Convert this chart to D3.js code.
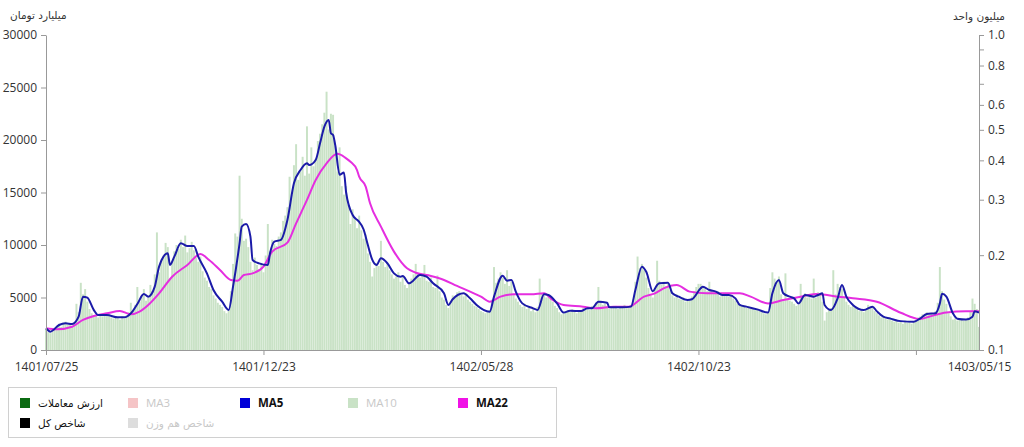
<!DOCTYPE html>
<html><head><meta charset="utf-8">
<script src="https://cdn.jsdelivr.net/npm/d3@7/dist/d3.min.js"></script>
<style>
html,body{margin:0;padding:0;background:#fff;}
svg{display:block;}
.ax text{font-family:"Open Sans",sans-serif;font-size:12px;fill:#333;}
.ax path,.ax line{stroke:#999;}
</style></head>
<body>
<svg id="c" width="1024" height="447"></svg>
<script>
// ---- data ----
const tradeValue = [
2000,1700,1600,1800,2100,2300,2500,2200,2600,2700,2400,2500,2300,2600,4400,3600,6400,5300,5800,4600,3900,3500,3200,3300,3100,
3400,3200,3500,3300,3400,3100,3000,3200,3100,2900,3200,3000,3300,3600,4500,3800,4300,6000,4600,5200,5800,4700,5000,6200,5600,7200,
11200,7400,8600,9000,10200,9800,6800,8500,9400,10000,9600,10500,9800,10900,9300,9700,10300,9500,8800,8400,8900,7500,6900,6600,6000,
5800,5200,4900,4500,4300,4100,3700,3500,3900,5600,8200,11100,10800,16600,12500,10400,10600,
9800,8400,7600,8800,8100,7700,8300,7400,9000,12000,9400,10500,10100,9900,10800,11200,12300,12800,
13600,16500,14800,17600,19600,16200,17000,18400,16600,21300,16800,19300,17500,18200,19900,20600,21500,22600,24600,21000,
22500,22400,19400,17000,19300,15600,14800,15600,13800,12000,13400,12600,11600,12800,11400,10600,11000,9200,8400,7000,
7800,8300,8000,10400,8400,7900,8300,7600,7200,6800,7000,7400,6500,7100,6200,5900,6400,6800,7200,8200,
7300,6900,7000,8100,6600,6500,6900,6000,5900,7100,5600,5000,4800,4300,4000,4600,5200,5000,5500,5600,5300,5100,5400,4800,4600,4400,4200,4100,3900,3700,
3600,3500,3700,3800,4800,7900,6400,6800,7400,6900,6300,7600,6100,6500,5300,4900,4600,4300,4100,4400,3900,4200,3700,3900,3600,4100,6800,5400,5200,5000,
5300,4900,4600,4200,4000,3600,3400,3500,3700,3800,3600,3900,3700,3500,3800,3700,4000,3900,4100,3800,4200,4000,4500,6000,4700,4300,4400,4200,3900,4100,4000,4200,3900,4100,4000,4300,4100,4000,4300,4800,
6500,8900,7800,8200,7600,6900,5900,5200,5000,5800,8500,6600,6200,6500,6100,6300,5700,5200,5000,5300,4900,4800,5000,4600,4700,4800,5100,5600,6000,6300,
6300,5900,5800,5600,6500,5700,5500,5400,5600,5100,5300,5200,5400,5100,5200,4900,4700,4400,4300,4200,4100,4000,4200,3900,4000,3800,3900,3700,3600,3500,
3400,3600,5900,7400,6800,6500,7000,5300,4800,7300,4900,4700,4600,4400,4200,4300,6300,5100,5400,5000,5200,4900,6800,5000,5500,5300,4600,2800,3600,3900,4000,7600,5300,6300,6000,5800,5100,4600,4300,4100,
4200,4000,3900,3700,3800,3600,3900,4300,4100,4000,3700,3500,3300,3100,3200,3000,2900,3100,2800,2700,2900,2600,2700,2500,2800,2600,2700,2500,2700,2900,
3100,3200,3400,3300,3600,3400,3500,3300,3700,4500,7900,5600,4800,4400,3500,3200,2900,3000,2800,2900,3000,2800,2900,3100,3700,4900,4400,3900,2200
];
const ma5Day = [0,2,6,9,12,15,17,19,22,24,28,33,36,39,42,45,47,50,52,56,57,59,62,65,68,70,74,77,81,84,86,89,90,92,94,95,98,102,103,105,108,111,114,117,120,121,124,126,128,130,131,132,133,135,137,138,141,143,144,146,148,150,152,154,157,160,163,164,167,172,175,178,183,185,187,192,195,198,204,206,210,212,214,216,219,224,226,229,231,235,238,241,246,249,251,254,258,259,265,269,271,274,276,279,281,282,286,288,291,295,297,301,302,305,308,311,314,317,319,322,327,332,334,337,339,342,344,346,349,353,355,357,358,361,364,366,368,371,376,380,382,385,388,393,399,402,405,409,411,412,414,417,419,423,426,427,429];
const ma5Val = [2070,1750,2380,2540,2470,3170,5080,4980,3800,3330,3330,3110,3110,3490,4380,5330,5080,6030,7940,9210,8100,8890,10160,9900,9900,8890,7300,5710,4600,3810,6030,10160,11750,12000,10790,8570,8250,8100,9210,10320,10480,12380,15870,17140,17780,17620,18100,19680,21270,21900,20640,20480,19500,16700,16900,15000,12860,12400,12200,11500,10000,8600,8100,8730,8250,7300,6980,7050,6350,7140,6980,6350,5400,4290,4830,5400,4920,4290,3650,5080,7080,6600,6670,5560,4440,3970,3810,5300,5240,4440,3560,3740,3710,3970,3970,4600,4500,4060,4060,4130,5710,7940,7460,5600,6190,6350,6410,5400,5080,4760,4830,5870,6030,5710,5560,5240,5240,4920,4290,4130,3870,3560,5400,6670,5400,5080,4920,4440,5240,5080,5240,5400,4290,3810,4920,6190,5080,4290,3810,4130,3700,3170,3010,2750,2700,3010,3430,3500,4440,5350,5080,3490,2980,2900,3170,3700,3560];
const ma22Day = [0,5,12,17,22,28,34,39,43,47,52,58,65,71,75,80,85,88,91,95,100,104,111,115,120,124,129,134,138,140,143,144,147,149,154,160,166,170,177,183,189,195,200,204,209,215,223,229,233,238,247,253,261,268,275,280,284,290,296,304,313,319,324,332,339,347,354,364,371,382,393,402,406,414,423,429];
const ma22Val = [2070,1970,2220,2860,3240,3490,3710,3400,3650,4290,5400,6980,8100,9140,8570,7620,6670,6600,7140,7300,7940,9370,10220,12060,14290,16190,17780,18680,18250,17930,17140,16510,15560,13970,11750,9370,7780,7360,7050,6670,6100,5560,5080,4600,5080,5300,5300,5400,4760,4290,4130,3970,4130,4130,5080,5400,5870,6190,5560,5400,5400,5400,5080,4440,4760,5080,5330,5080,4920,4600,3550,2950,3170,3570,3680,3680];
const dateTickDay = [0,100,200,300,400,429];
const dateTickLabel = ["1401/07/25","1401/12/23","1402/05/28","1402/10/23","","1403/05/15"];
const leftTicks = [0,5000,10000,15000,20000,25000,30000];
const rightTicks = [0.1,0.2,0.3,0.4,0.5,0.6,0.7,0.8,0.9,1.0];
const rightLabelled = [0.1,0.2,0.3,0.4,0.5,0.6,0.8,1.0];
const legendRow1 = [["ارزش معاملات","#0b6b12",true],["MA3","#f5c4c6",false],["MA5","#0000d8",true],["MA10","#c9e2c6",false],["MA22","#f012e6",true]];
const legendRow2 = [["شاخص کل","#000000",true],["شاخص هم وزن","#dddddd",false]];

// ---- chart ----
const svg = d3.select("#c");
const L=46, R=979, T=35, B=350;
const x = d3.scaleLinear().domain([0, tradeValue.length-1]).range([L,R]);
const y = d3.scaleLinear().domain([0,30000]).range([B,T]);
const yR = d3.scaleLog().domain([0.1,1]).range([B,T]);
const step = (R-L)/(tradeValue.length-1);

svg.append("g").selectAll("rect").data(tradeValue).join("rect")
  .attr("x",(d,i)=>x(i)-step*0.45).attr("width",step*0.9)
  .attr("y",d=>y(d)).attr("height",d=>B-y(d))
  .attr("fill","#c9e2c6");

const line = d3.line().curve(d3.curveMonotoneX);
svg.append("path").attr("d", line(ma22Day.map((d,i)=>[x(d), y(ma22Val[i])])))
  .attr("fill","none").attr("stroke","#e52ee0").attr("stroke-width",2);
svg.append("path").attr("d", line(ma5Day.map((d,i)=>[x(d), y(ma5Val[i])])))
  .attr("fill","none").attr("stroke","#1b1ba8").attr("stroke-width",2);

svg.append("g").attr("class","ax").attr("transform",`translate(${L},0)`)
  .call(d3.axisLeft(y).tickValues(leftTicks).tickSize(5).tickSizeOuter(0).tickPadding(4).tickFormat(d3.format("d")));
svg.append("g").attr("class","ax").attr("transform",`translate(${R},0)`)
  .call(d3.axisRight(yR).tickValues(rightTicks).tickSize(5).tickSizeOuter(0).tickPadding(4)
    .tickFormat(d=>rightLabelled.some(v=>Math.abs(v-d)<1e-9)?d3.format(".1f")(d):""));
const xa = svg.append("g").attr("class","ax").attr("transform",`translate(0,${B})`)
  .call(d3.axisBottom(x).tickValues(dateTickDay).tickSize(5).tickSizeOuter(0).tickPadding(7)
    .tickFormat((d,i)=>dateTickLabel[i]));
xa.selectAll(".tick").filter(d=>d===dateTickDay[dateTickDay.length-1]).select("line").remove();

const fa = "'DejaVu Sans',sans-serif";
svg.append("text").attr("x",10).attr("y",19).attr("font-family",fa).attr("font-size",10.5).attr("fill","#333").text("میلیارد تومان");
svg.append("text").attr("x",1005).attr("y",20).attr("text-anchor","end").attr("font-family",fa).attr("font-size",10.5).attr("fill","#333").text("میلیون واحد");

// legend
svg.append("rect").attr("x",8.5).attr("y",387.5).attr("width",548).attr("height",50).attr("fill","#fff").attr("stroke","#d0d0d0");
const colX = [20,128,240,348,458];
function legRow(items, cy){
  items.forEach((it,k)=>{
    const latin = /^[A-Za-z0-9]+$/.test(it[0]);
    svg.append("rect").attr("x",colX[k]).attr("y",cy-5).attr("width",10).attr("height",10).attr("fill",it[1]);
    svg.append("text").attr("x",colX[k]+18).attr("y",cy+4).attr("font-family",latin?"'Open Sans',sans-serif":fa).attr("font-size",latin?11.5:10.5)
      .attr("font-weight",(it[2]&&latin)?"bold":"normal").attr("fill",it[2]?"#111":"#c8c8c8").text(it[0]);
  });
}
legRow(legendRow1,403);
legRow(legendRow2,423);
</script>
</body></html>
